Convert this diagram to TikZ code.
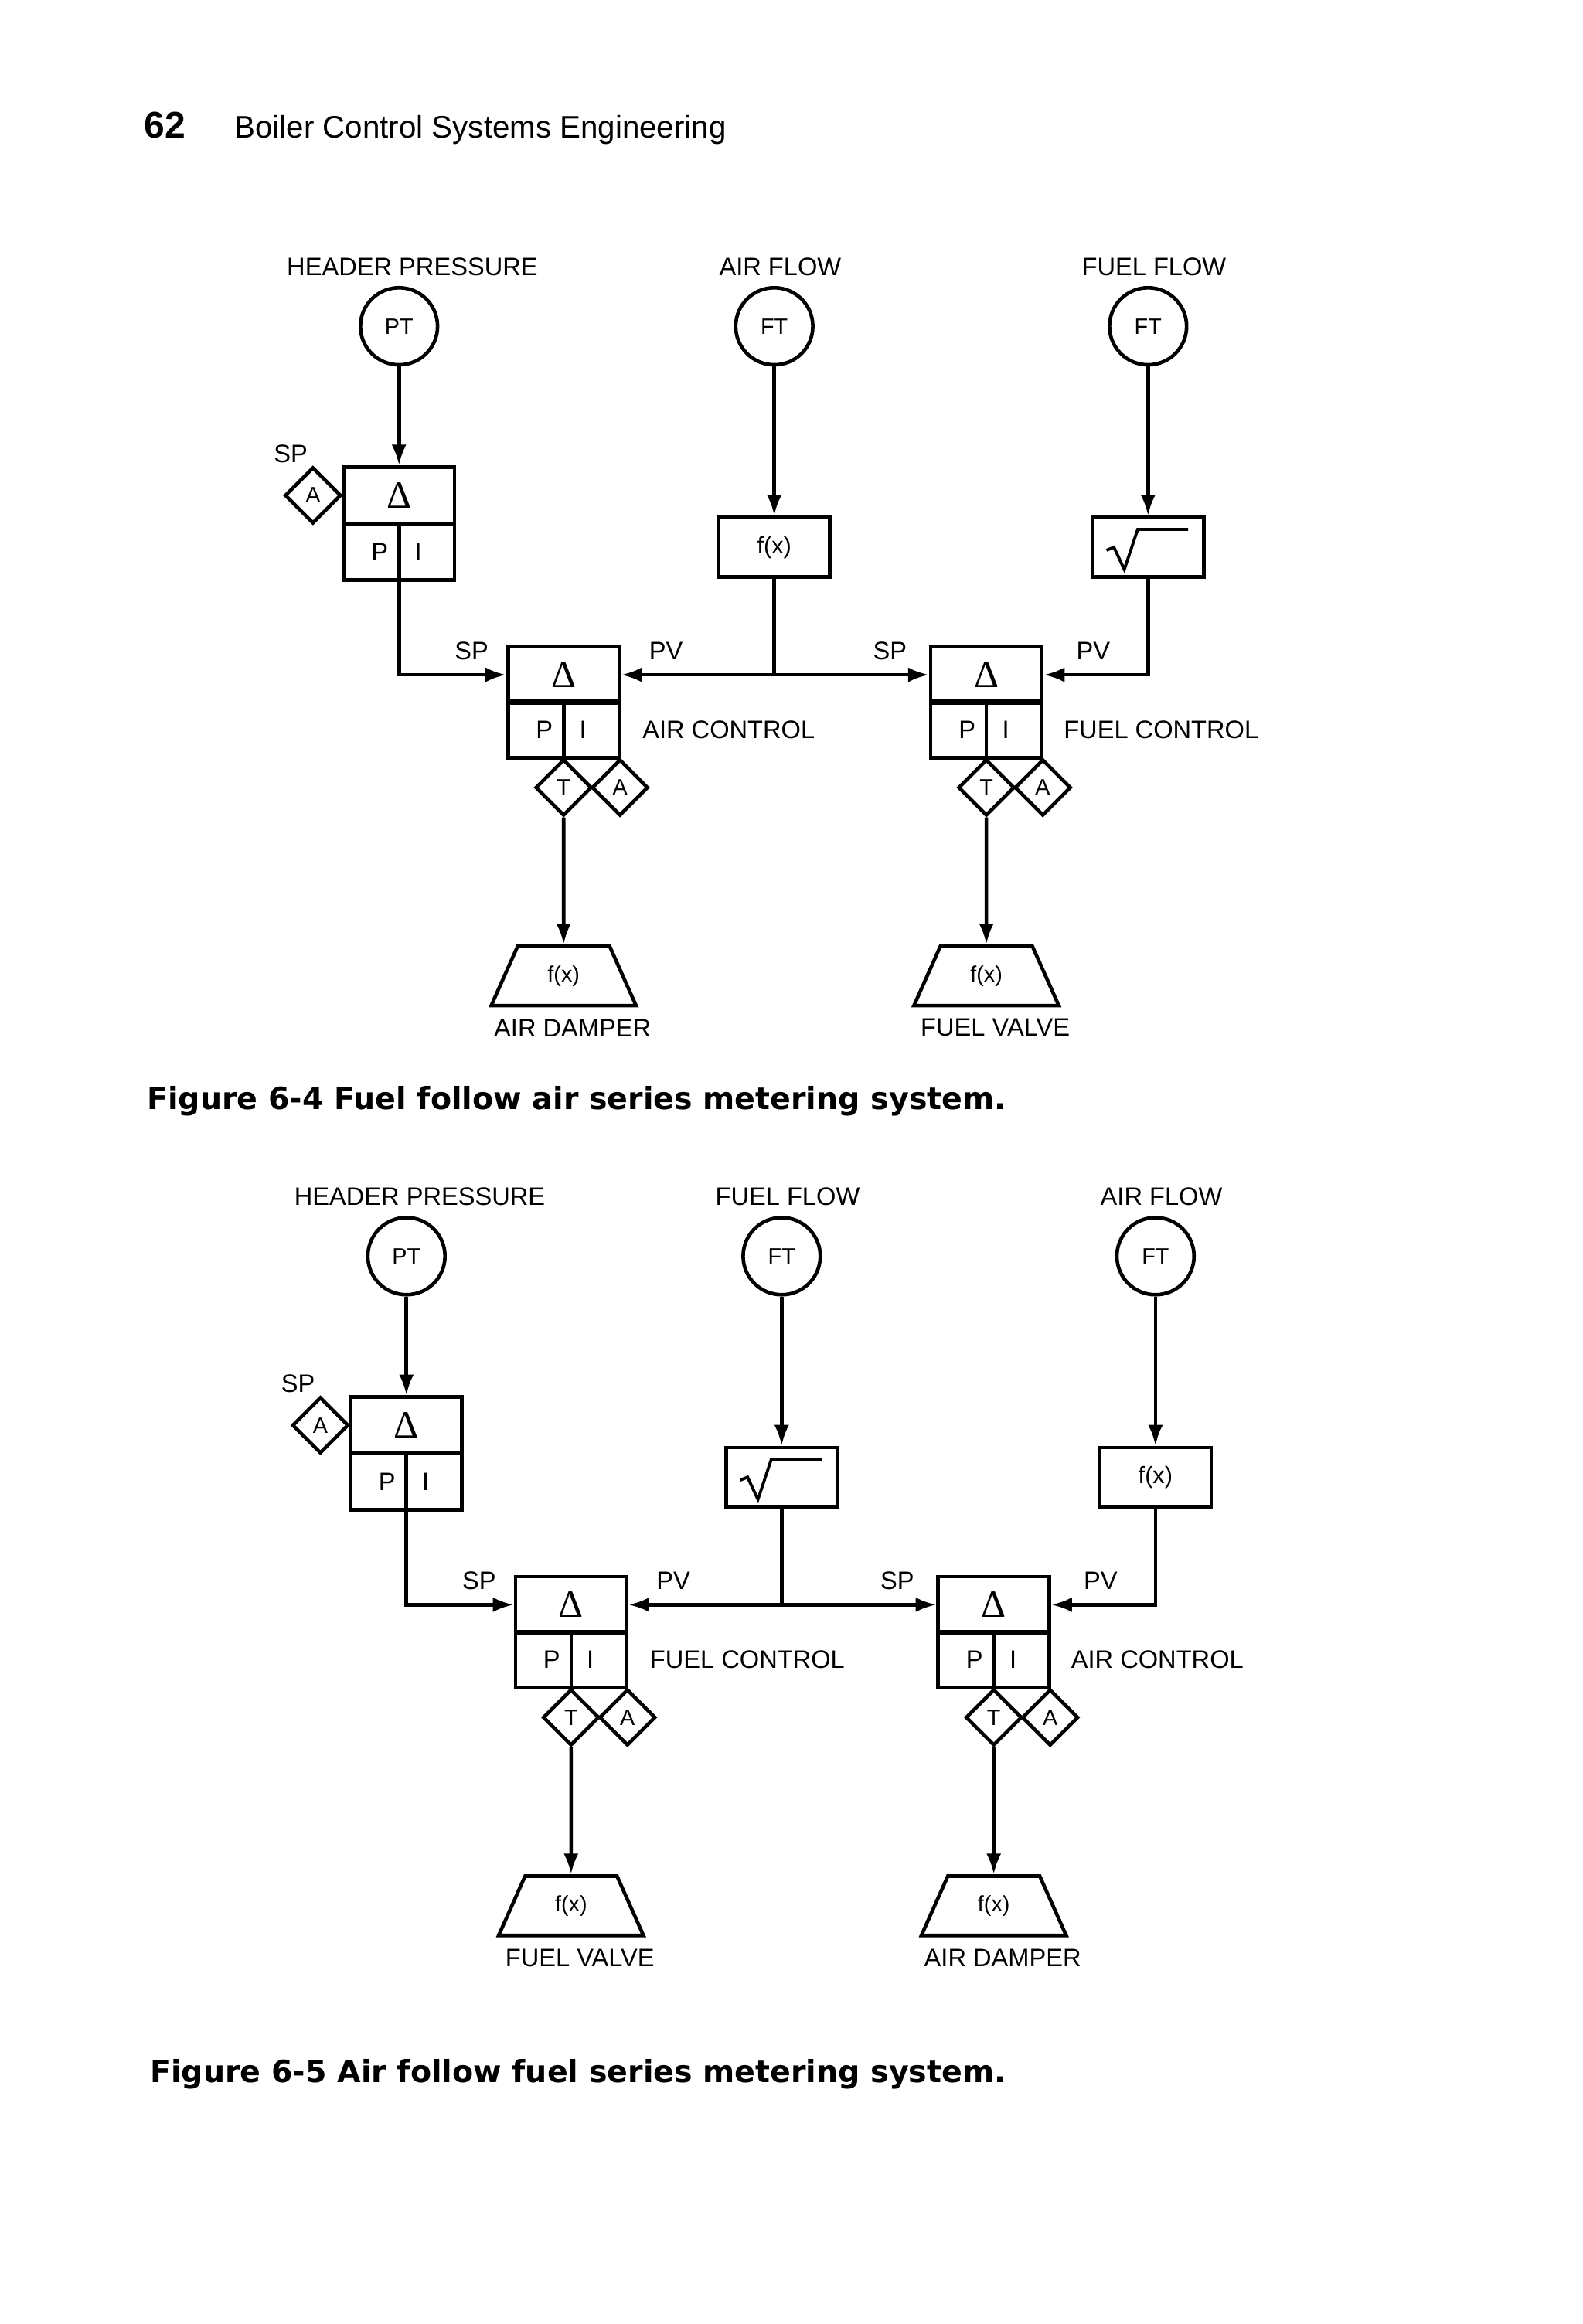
\documentclass[tikz,border=0pt]{standalone}
\usepackage{fontspec}
\setmainfont{Liberation Sans}
\newfontfamily\dfont{Liberation Serif}
\newfontfamily\capfont{DejaVu Sans}
\usetikzlibrary{shapes.geometric,arrows.meta,calc}
\begin{document}
\begin{tikzpicture}[x=0.5pt,y=-0.5pt,
  line width=1.2pt,
  lbl/.style={font=\fontsize{8.5}{10}\selectfont,inner sep=0pt},
  inst/.style={circle,draw,minimum size=26pt,inner sep=0pt,font=\fontsize{7.5}{9}\selectfont},
  half/.style={rectangle,draw,minimum width=37.5pt,minimum height=19pt,inner sep=0pt},
  fbox/.style={rectangle,draw,minimum width=37.5pt,minimum height=20pt,inner sep=0pt,font=\fontsize{8}{9}\selectfont},
  dia/.style={diamond,draw,minimum size=19pt,inner sep=0pt,font=\fontsize{7.5}{9}\selectfont},
  valve/.style={trapezium,draw,trapezium left angle=66,trapezium right angle=66,minimum width=38pt,minimum height=20pt,inner sep=0pt,font=\fontsize{7.5}{9}\selectfont},
  dl/.style={font=\dfont\fontsize{13}{13}\selectfont},
  figcap/.style={anchor=base west,inner sep=0pt,font=\capfont\fontsize{10.3}{12}\selectfont\bfseries},
  arr/.style={-{Latex[length=7pt,width=5pt]}}]
\useasboundingbox (0,0) rectangle (1067,1567);
\node[anchor=base west,inner sep=0pt,font=\fontsize{12.5}{14}\selectfont\bfseries] (pg) at (96,93) {62};
\node[anchor=base west,inner sep=0pt,font=\fontsize{10.5}{12}\selectfont] (hd) at (157,93) {Boiler Control Systems Engineering};
\newcommand\mydiag[3]{%
\begin{scope}[shift={#2}]
\node[lbl] (#1l1) at (278,180) {HEADER PRESSURE};
\ifnum#3=1
 \node[lbl] (#1l2) at (526,180) {AIR FLOW};
 \node[lbl] (#1l3) at (778,180) {FUEL FLOW};
\else
 \node[lbl] (#1l2) at (526,180) {FUEL FLOW};
 \node[lbl] (#1l3) at (778,180) {AIR FLOW};
\fi
\node[inst] (#1pt) at (269,220) {PT};
\node[inst] (#1ft2) at (522,220) {FT};
\node[inst] (#1ft3) at (774,220) {FT};
\node[half,dl] (#1pt1) at (269,334) {Δ};
\node[half] (#1pb1) at (269,372) {};
\node[dia] (#1sa) at (211,334) {A};
\node[lbl] (#1spl) at (196,306) {SP};
\node[fbox] (#1b2) at (522,369) {};
\node[fbox] (#1b3) at (774,369) {};
\node[half,dl] (#1c1t) at (380,455) {Δ};
\node[half] (#1c1b) at (380,492) {};
\node[half,dl] (#1c2t) at (665,455) {Δ};
\node[half] (#1c2b) at (665,492) {};
\node[lbl] (#1s1) at (318,439) {SP};
\node[lbl] (#1p1) at (449,439) {PV};
\node[lbl] (#1s2) at (600,439) {SP};
\node[lbl] (#1p2) at (737,439) {PV};
\node[dia] (#1t1) at (380,531) {T};
\node[dia] (#1a1) at (418,531) {A};
\node[dia] (#1t2) at (665,531) {T};
\node[dia] (#1a2) at (703,531) {A};
\node[valve] (#1v1) at (380,658) {f(x)};
\node[valve] (#1v2) at (665,658) {f(x)};
\ifnum#3=1
 \node[lbl,anchor=west] (#1cl1) at (432,492) {AIR CONTROL};
 \node[lbl,anchor=west] (#1cl2) at (716,492) {FUEL CONTROL};
 \node[lbl] (#1vl1) at (386,693) {AIR DAMPER};
 \node[lbl] (#1vl2) at (671,693) {FUEL VALVE};
 \node[font=\fontsize{8}{9}\selectfont,inner sep=0pt] at (#1b2) {f(x)};
 \draw[line width=1pt] ($(#1b3)+(-28,2)$) -- ++(5,-2) -- ++(7,15) -- ++(9,-27) -- ++(34,0);
\else
 \node[lbl,anchor=west] (#1cl1) at (432,492) {FUEL CONTROL};
 \node[lbl,anchor=west] (#1cl2) at (716,492) {AIR CONTROL};
 \node[lbl] (#1vl1) at (386,693) {FUEL VALVE};
 \node[lbl] (#1vl2) at (671,693) {AIR DAMPER};
 \node[font=\fontsize{8}{9}\selectfont,inner sep=0pt] at (#1b3) {f(x)};
 \draw[line width=1pt] ($(#1b2)+(-28,2)$) -- ++(5,-2) -- ++(7,15) -- ++(9,-27) -- ++(34,0);
\fi
\foreach \q in {pb1,c1b,c2b}{
  \draw (#1\q.north) -- (#1\q.south);
  \node[lbl] at ($(#1\q.center)+(-13,0)$) {P};
  \node[lbl] at ($(#1\q.center)+(13,0)$) {I};
}
\draw[arr] (#1pt) -- (#1pt1.north);
\draw[arr] (#1ft2) -- (#1b2.north);
\draw[arr] (#1ft3) -- (#1b3.north);
\draw[arr] (#1pb1.south) |- (#1c1t.west);
\coordinate (#1j) at (#1b2.south |- #1c1t.west);
\draw (#1b2.south) -- (#1j);
\draw[arr] (#1j) -- (#1c1t.east);
\draw[arr] (#1j) -- (#1c2t.west);
\draw[arr] (#1b3.south) |- (#1c2t.east);
\draw[arr] (#1t1.south) -- (#1v1.north);
\draw[arr] (#1t2.south) -- (#1v2.north);
\end{scope}}
\mydiag{a}{(0,0)}{1}
\mydiag{b}{(5,627)}{2}
\node[figcap] (cap1) at (98,748) {Figure 6-4 Fuel follow air series metering system.};
\node[figcap] (cap2) at (100,1404) {Figure 6-5 Air follow fuel series metering system.};
\end{tikzpicture}
\end{document}
